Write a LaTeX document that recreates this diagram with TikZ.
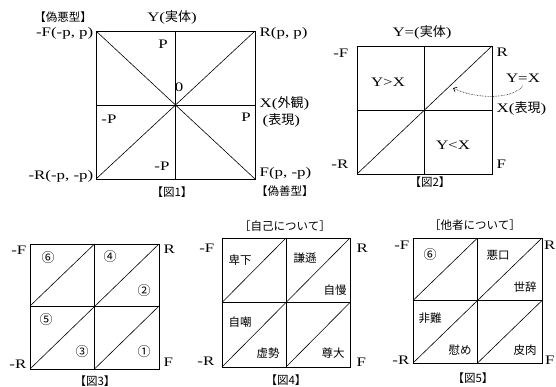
\documentclass[tikz,border=0pt]{standalone}
\usepackage{fontspec}
\setmainfont{Liberation Serif}[FakeStretch=1.3]
\newfontfamily\cjk{Noto Sans CJK JP}
\newcommand{\jp}[1]{{\cjk #1}}
\usetikzlibrary{calc}
\usetikzlibrary{positioning}
\usetikzlibrary{arrows.meta}

\begin{document}
\begin{tikzpicture}[x=1pt, y=-1pt, font=\fontsize{13}{15}\selectfont,
  frame/.style={black, line width=0.8pt},
  split/.style={black, line width=0.6pt},
  word/.style={font=\fontsize{11.5}{14}\selectfont\cjk, inner sep=1pt},
  num/.style={font=\fontsize{13}{15}\selectfont\cjk, inner sep=1pt},
  tag/.style={inner sep=1.5pt}]
  \useasboundingbox (0,0) rectangle (556,387);

  % Figure 1: square with both diagonals
  \coordinate (nw1) at (96,31);
  \coordinate (ne1) at (255,31);
  \coordinate (sw1) at (96,179);
  \coordinate (se1) at (255,179);
  \coordinate (o1) at (175.5,105);

  \draw[frame] (sw1) rectangle (ne1);
  \draw[split] (nw1 -| o1) -- (sw1 -| o1);
  \draw[split] (nw1 |- o1) -- (ne1 |- o1);
  \draw[split] (sw1) -- (ne1);
  \draw[split] (nw1) -- (se1);

  % Labels of figure 1
  \node[word] (bad1) at (63,17) {【偽悪型】};
  \node (axisy1) at (172,17) {Y(\jp{実体})};
  \node[tag, left] (cF1) at (95,33) {-F(-p, p)};
  \node[tag, right] (cR1) at (258,33) {R(p, p)};
  \node[tag, right] (axisx1) at (258,103) {X(\jp{外観})};
  \node[tag, right] (expr1) at (261,120) {(\jp{表現})};
  \node[tag, left] (cmR1) at (95,176) {-R(-p, -p)};
  \node[tag, right] (cmF1) at (258,173) {F(p, -p)};
  \node[word, right] (good1) at (255,191) {【偽善型】};
  \node[word] (cap1) at (172,192) {【図1】};

  % Values on the axes
  \node (p1) at (163,44) {P};
  \node (zero1) at (179,87) {0};
  \node (mp1) at (109,119) {-P};
  \node (p2) at (246,117) {P};
  \node (mp2) at (162,166) {-P};

  % Figure 2: square with one diagonal Y=X
  \coordinate (nw2) at (357,46);
  \coordinate (ne2) at (492,46);
  \coordinate (sw2) at (357,174);
  \coordinate (se2) at (492,174);
  \coordinate (o2) at (424.5,110);

  \draw[frame] (sw2) rectangle (ne2);
  \draw[split] (nw2 -| o2) -- (sw2 -| o2);
  \draw[split] (nw2 |- o2) -- (ne2 |- o2);
  \draw[split] (sw2) -- (ne2);

  % Labels of figure 2
  \node (axisy2) at (422,32) {Y=(\jp{実体})};
  \node[tag, left] (cF2) at (350,53) {-F};
  \node[tag, right] (cR2) at (495,52) {R};
  \node (gt2) at (388,82) {Y>X};
  \node (eq2) at (523,78) {Y=X};
  \node[tag, right] (axisx2) at (495,108) {X(\jp{表現})};
  \node (lt2) at (453,145) {Y<X};
  \node[tag, left] (cmR2) at (350,164) {-R};
  \node[tag, right] (cmF2) at (495,164) {F};
  \node[word] (cap2) at (430,182) {【図2】};

  % Dotted pointer to the diagonal
  \coordinate (tip2) at (453,88);
  \draw[densely dotted, line width=0.6pt, -{Straight Barb[length=3pt, width=5pt]}]
    (eq2.south) .. controls (512,100) and (475,99) .. (tip2);

  % Figures 3 to 5: four quadrants, each cut by a diagonal
  \coordinate (nw3) at (30,244);
  \coordinate (ne3) at (159,244);
  \coordinate (sw3) at (30,369);
  \coordinate (se3) at (159,369);
  \coordinate (o3) at (94.5,306);

  \coordinate (nw4) at (222,238);
  \coordinate (ne4) at (350,238);
  \coordinate (sw4) at (222,367);
  \coordinate (se4) at (350,367);
  \coordinate (o4) at (286,302.5);

  \coordinate (nw5) at (413,238);
  \coordinate (ne5) at (542,238);
  \coordinate (sw5) at (413,363);
  \coordinate (se5) at (542,363);
  \coordinate (o5) at (477.5,300.5);

  \foreach \n in {3,4,5} {
    \draw[frame] (sw\n) rectangle (ne\n);
    \draw[split] (nw\n -| o\n) -- (sw\n -| o\n);
    \draw[split] (nw\n |- o\n) -- (ne\n |- o\n);
    \draw[split] (sw\n) -- (ne\n);
    \draw[split] (nw\n |- o\n) -- (nw\n -| o\n);
    \draw[split] (sw\n -| o\n) -- (se\n |- o\n);
  }

  % Labels of figure 3
  \node[tag, left] (cF3) at (28,250) {-F};
  \node[tag, right] (cR3) at (162,249) {R};
  \node[tag, left] (cmR3) at (28,364) {-R};
  \node[tag, right] (cmF3) at (162,362) {F};
  \node[word] (cap3) at (95,381) {【図3】};
  \node[num] (n6) at (48,258) {⑥};
  \node[num] (n4) at (110,257) {④};
  \node[num] (n2) at (144,291) {②};
  \node[num] (n5) at (46,320) {⑤};
  \node[num] (n3) at (82,352) {③};
  \node[num] (n1) at (144,352) {①};

  % Labels of figure 4
  \node[word] (self4) at (285,226) {［自己について］};
  \node[tag, left] (cF4) at (216,248) {-F};
  \node[tag, right] (cR4) at (355,248) {R};
  \node[tag, left] (cmR4) at (216,361) {-R};
  \node[tag, right] (cmF4) at (355,362) {F};
  \node[word] (cap4) at (286,380) {【図4】};
  \node[word] (hige) at (240,260) {卑下};
  \node[word] (kenson) at (305,258) {謙遜};
  \node[word] (jiman) at (335,290) {自慢};
  \node[word] (jicho) at (240,322) {自嘲};
  \node[word] (kyosei) at (268,353) {虚勢};
  \node[word] (sondai) at (333,353) {尊大};

  % Labels of figure 5
  \node[word] (other5) at (475,225) {［他者について］};
  \node[tag, left] (cF5) at (411,245) {-F};
  \node[tag, right, inner sep=1pt] (cR5) at (543,245) {R};
  \node[tag, left] (cmR5) at (411,360) {-R};
  \node[tag, right, inner sep=1pt] (cmF5) at (544,360) {F};
  \node[word] (cap5) at (473,378) {【図5】};
  \node[num] (m6) at (430,255) {⑥};
  \node[word] (waruguchi) at (498,255) {悪口};
  \node[word] (seji) at (525,287) {世辞};
  \node[word] (hinan) at (430,318) {非難};
  \node[word] (nagusame) at (460,350) {慰め};
  \node[word] (hiniku) at (525,350) {皮肉};

\end{tikzpicture}
\end{document}
